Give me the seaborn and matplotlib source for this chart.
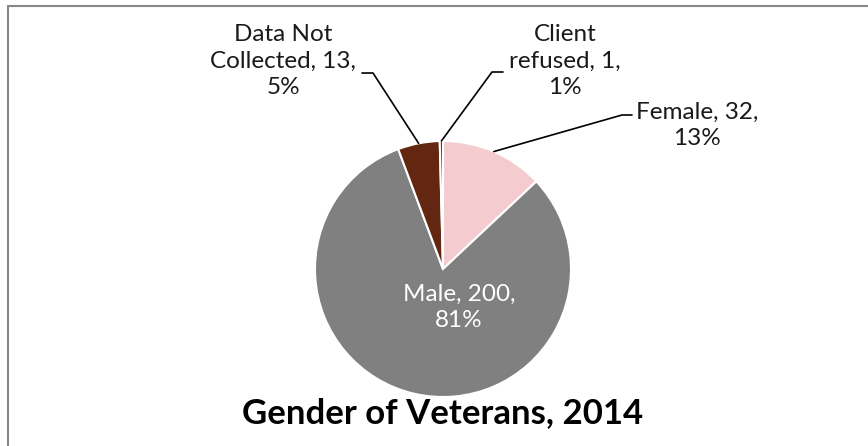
import matplotlib
matplotlib.use("Agg")
import matplotlib.pyplot as plt
import numpy as np
import seaborn as sns

# data
categories = ["Female", "Male", "Data Not Collected", "Client refused"]
counts = [32, 200, 13, 1]
percents = [13, 81, 5, 1]
colors = ["#F4CBCF", "#808080", "#632611", "#8B1A1A"]

sns.set_theme(style="white")
plt.rcParams["font.family"] = ["Lato", "DejaVu Sans"]

W, H = 868, 446
fig = plt.figure(figsize=(W / 100, H / 100), dpi=100)
ax = fig.add_axes([0, 0, 1, 1])

# pie centre / radius in pixels
cx, cy, R = 443, 269, 128

wedges, _ = ax.pie(counts, colors=colors, startangle=90, counterclock=False,
                   radius=1, center=(0, 0), frame=True,
                   wedgeprops=dict(edgecolor="white", linewidth=1.5))
ax.set_xlim(-cx / R, (W - cx) / R)
ax.set_ylim(-(H - cy) / R, cy / R)
ax.set_axis_off()


def px(x, y):
    return (x - cx) / R, (cy - y) / R


labels = [f"{c}, {n},\n{p}%" for c, n, p in zip(categories, counts, percents)]
labels[2] = f"Data Not\nCollected, {counts[2]},\n{percents[2]}%"
labels[3] = f"Client\nrefused, {counts[3]},\n{percents[3]}%"

# label positions (pixel) and leader elbows
text_pos = {0: (697, 125), 1: (459, 307), 2: (283, 61), 3: (565, 61)}
elbows = {0: [(632, 115), (622, 115)], 2: [(362, 73), (373, 73)],
          3: [(503, 72), (492, 72)]}

for i, w in enumerate(wedges):
    tx, ty = px(*text_pos[i])
    col = "white" if i == 1 else "#1a1a1a"
    ax.text(tx, ty, labels[i], ha="center", va="center", fontsize=17.5,
            color=col, linespacing=1.3, multialignment="center")
    if i in elbows:
        ang = np.deg2rad((w.theta1 + w.theta2) / 2)
        pts = [px(*p) for p in elbows[i]] + [(np.cos(ang), np.sin(ang))]
        ax.plot([p[0] for p in pts], [p[1] for p in pts], color="black", lw=1.2)

tx, ty = px(443, 423)
ax.text(tx, ty, "Gender of Veterans, 2014", ha="center", va="baseline",
        fontsize=25, fontweight="bold", color="black")

# chart border (top and left edges visible)
fig.add_artist(plt.Line2D([8 / W, 8 / W], [0, 1 - 6 / H], transform=fig.transFigure,
                          color="#878787", lw=1.5))
fig.add_artist(plt.Line2D([8 / W, 1], [1 - 6 / H, 1 - 6 / H], transform=fig.transFigure,
                          color="#878787", lw=1.5))

fig.savefig("out.png", dpi=100, facecolor="white")
